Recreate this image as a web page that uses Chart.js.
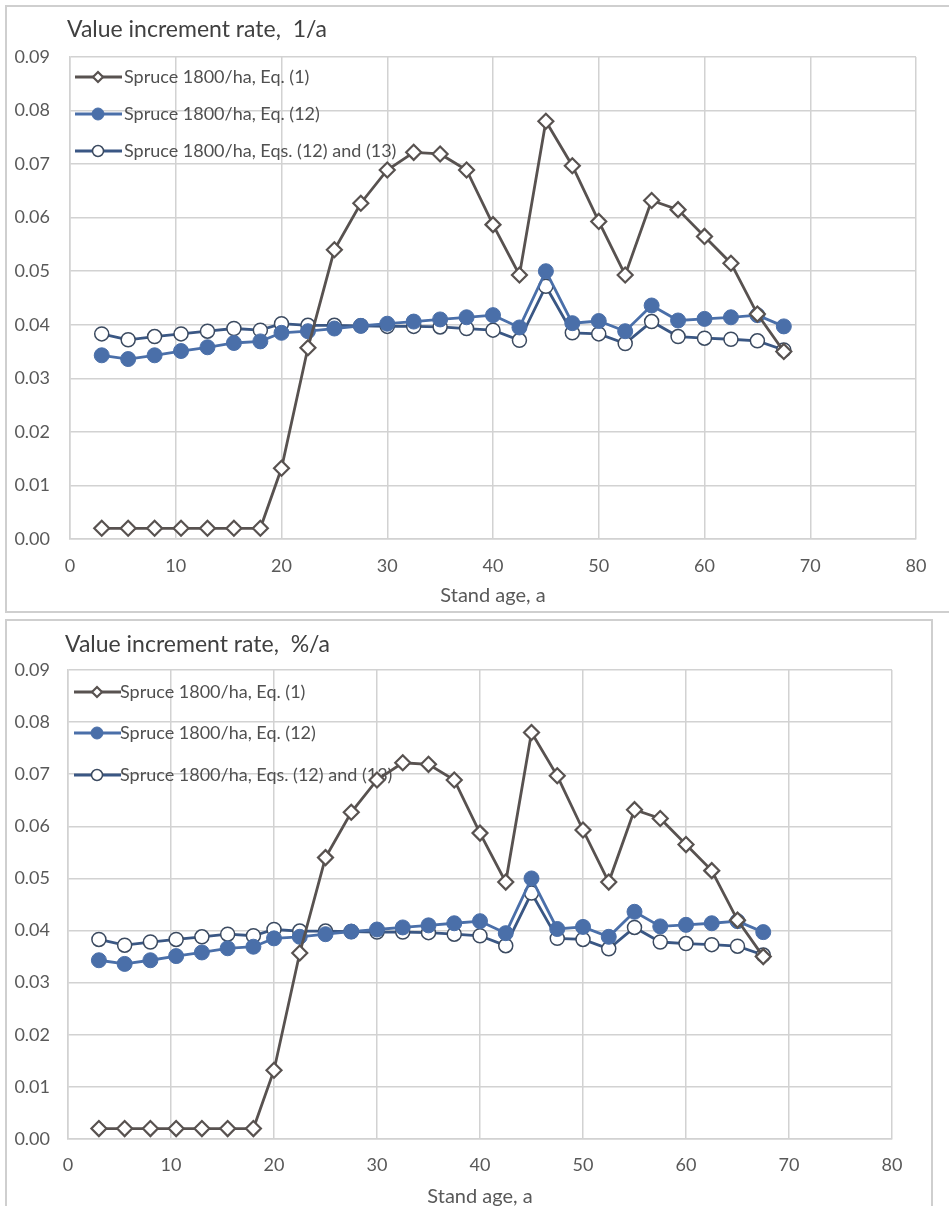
<!DOCTYPE html>
<html>
<head>
<meta charset="utf-8">
<title>Value increment rate</title>
<script src="https://cdn.jsdelivr.net/npm/chart.js@4"></script>
<style>
    body { margin: 0; background: #fff; width: 949px; height: 1206px; position: relative; overflow: hidden; }
    .panel { position: absolute; border: 2px solid #cfcfcf; box-sizing: border-box; }
    #panelTop { left: 5px; top: 5px; width: 960px; height: 608px; }
    #panelBottom { left: 5px; top: 619px; width: 928px; height: 600px; }
    canvas { position: absolute; left: 0; }
    #chartTop { top: 0; }
    #chartBottom { top: 615px; }
</style>
</head>
<body>
<div class="panel" id="panelTop"></div>
<div class="panel" id="panelBottom"></div>
<canvas id="chartTop" width="949" height="612"></canvas>
<canvas id="chartBottom" width="949" height="600"></canvas>

<script>
/* ================= DATA ================= */
const ages = [3, 5.5, 8, 10.5, 13, 15.5, 18, 20, 22.5, 25, 27.5, 30, 32.5, 35, 37.5, 40, 42.5, 45, 47.5, 50, 52.5, 55, 57.5, 60, 62.5, 65, 67.5];

const eq1 = [0.0020, 0.0020, 0.0020, 0.0020, 0.0020, 0.0020, 0.0020, 0.0132, 0.0357, 0.0540, 0.0627, 0.0689, 0.0722, 0.0719, 0.0689, 0.0587, 0.0493, 0.0780, 0.0697, 0.0593, 0.0493, 0.0632, 0.0615, 0.0565, 0.0515, 0.0420, 0.0350];
const eq12 = [0.0343, 0.0336, 0.0343, 0.0351, 0.0358, 0.0366, 0.0369, 0.0385, 0.0388, 0.0393, 0.0398, 0.0402, 0.0406, 0.0410, 0.0414, 0.0418, 0.0395, 0.0500, 0.0403, 0.0407, 0.0388, 0.0436, 0.0408, 0.0411, 0.0414, 0.0418, 0.0397];
const eq12and13 = [0.0383, 0.0372, 0.0378, 0.0383, 0.0388, 0.0393, 0.0390, 0.0402, 0.0399, 0.0399, 0.0398, 0.0397, 0.0397, 0.0396, 0.0393, 0.0390, 0.0371, 0.0472, 0.0385, 0.0383, 0.0365, 0.0406, 0.0378, 0.0375, 0.0373, 0.0370, 0.0353];

const seriesNames = ["Spruce 1800/ha, Eq. (1)", "Spruce 1800/ha, Eq. (12)", "Spruce 1800/ha, Eqs. (12) and (13)"];
const xTicks = [0, 10, 20, 30, 40, 50, 60, 70, 80];
const yTicks = [0, 0.01, 0.02, 0.03, 0.04, 0.05, 0.06, 0.07, 0.08, 0.09];
const xTitle = "Stand age, a";
const chartTitles = ["Value increment rate,  1/a", "Value increment rate,  %/a"];

const FONT = "Lato, 'Open Sans', sans-serif";

document.addEventListener("DOMContentLoaded", () => {

    /* ================= TOP CHART ================= */
    makeChart("chartTop", {
        title: chartTitles[0],
        titleX: 67, titleY: 30,
        area: { left: 70, right: 916, top: 57, bottom: 539 },
        legendX: 75, legendTextX: 124, legendY: [77, 114, 151],
        tickPadX: 16, tickPadY: 20, axisTitlePad: 4
    });

    /* ================= BOTTOM CHART ================= */
    makeChart("chartBottom", {
        title: chartTitles[1],
        titleX: 65, titleY: 30,
        area: { left: 68, right: 892, top: 55, bottom: 524 },
        legendX: 74, legendTextX: 120, legendY: [77, 118, 160],
        tickPadX: 15, tickPadY: 18, axisTitlePad: 6
    });
});

/* ================= HELPERS ================= */
function toPoints(values) {
    return ages.map((a, i) => ({ x: a, y: values[i] }));
}

function makeChart(id, g) {
    const canvas = document.getElementById(id);
    const W = canvas.width, H = canvas.height;

    const datasets = [
        {
            label: seriesNames[0],
            data: toPoints(eq1),
            borderColor: "#585250",
            borderWidth: 2.8,
            pointStyle: "rectRot",
            pointRadius: 7.5,
            pointBorderWidth: 2.2,
            pointBackgroundColor: "#ffffff",
            pointBorderColor: "#585250",
            legendRadius: 5
        },
        {
            label: seriesNames[1],
            data: toPoints(eq12),
            borderColor: "#4a6fa9",
            borderWidth: 2.8,
            pointStyle: "circle",
            pointRadius: 7.5,
            pointBorderWidth: 1,
            pointBackgroundColor: "#4a6fa9",
            pointBorderColor: "#4a6fa9",
            legendRadius: 6
        },
        {
            label: seriesNames[2],
            data: toPoints(eq12and13),
            borderColor: "#3a5784",
            borderWidth: 2.8,
            pointStyle: "circle",
            pointRadius: 7,
            pointBorderWidth: 1.5,
            pointBackgroundColor: "#ffffff",
            pointBorderColor: "#3b4a60",
            legendRadius: 5.5
        }
    ];

    new Chart(canvas, {
        type: "line",
        data: { datasets: datasets },
        options: {
            responsive: false,
            animation: false,
            clip: false,
            layout: { padding: { left: 0, top: g.area.top, right: W - g.area.right, bottom: 0 } },
            plugins: {
                legend: { display: false },
                tooltip: { enabled: false },
                panelDecor: g
            },
            scales: {
                x: {
                    type: "linear",
                    min: 0, max: 80,
                    afterBuildTicks: axis => { axis.ticks = xTicks.map(v => ({ value: v })); },
                    afterFit: s => { s.height = H - g.area.bottom; },
                    grid: { color: "#d2d2d2", lineWidth: 1.5, drawTicks: false },
                    border: { color: "#d2d2d2", width: 1.5 },
                    ticks: { padding: g.tickPadX, color: "#595959", font: { family: FONT, size: 18 } },
                    title: {
                        display: true, text: xTitle, color: "#595959",
                        font: { family: FONT, size: 20 },
                        padding: { top: 0, bottom: g.axisTitlePad }
                    }
                },
                y: {
                    type: "linear",
                    min: 0, max: 0.09,
                    afterBuildTicks: axis => { axis.ticks = yTicks.map(v => ({ value: v })); },
                    afterFit: s => { s.width = g.area.left; },
                    grid: { color: "#d2d2d2", lineWidth: 1.5, drawTicks: false },
                    border: { color: "#d2d2d2", width: 1.5 },
                    ticks: {
                        padding: g.tickPadY, color: "#595959", font: { family: FONT, size: 18 },
                        callback: v => Number(v).toFixed(2)
                    }
                }
            }
        },
        plugins: [panelDecor]
    });
}

/* title + in-plot legend, drawn under the data like the original */
const panelDecor = {
    id: "panelDecor",
    beforeDatasetsDraw(chart, args, g) {
        const ctx = chart.ctx;
        ctx.save();
        ctx.textBaseline = "middle";
        ctx.textAlign = "left";

        ctx.fillStyle = "#404040";
        ctx.font = "23px " + FONT;
        ctx.fillText(g.title, g.titleX, g.titleY);

        ctx.font = "18px " + FONT;
        chart.data.datasets.forEach((ds, i) => {
            const y = g.legendY[i];
            ctx.strokeStyle = ds.borderColor;
            ctx.lineWidth = ds.borderWidth;
            ctx.beginPath();
            ctx.moveTo(g.legendX, y);
            ctx.lineTo(g.legendX + 47, y);
            ctx.stroke();

            ctx.fillStyle = ds.pointBackgroundColor;
            ctx.strokeStyle = ds.pointBorderColor;
            ctx.lineWidth = ds.pointBorderWidth;
            Chart.helpers.drawPoint(ctx, {
                pointStyle: ds.pointStyle,
                radius: ds.legendRadius,
                rotation: 0,
                borderWidth: ds.pointBorderWidth
            }, g.legendX + 23, y);

            ctx.fillStyle = "#505050";
            ctx.fillText(ds.label, g.legendTextX, y);
        });
        ctx.restore();
    }
};
</script>
</body>
</html>
